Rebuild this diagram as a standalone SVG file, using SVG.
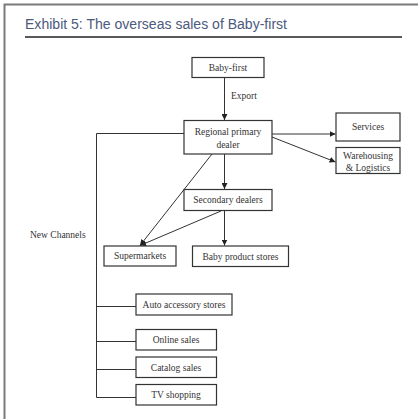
<svg xmlns="http://www.w3.org/2000/svg" width="418" height="419" viewBox="0 0 418 419">
<style>
.box{fill:#fff;stroke:#333;stroke-width:1.2}
.t{font-family:"Liberation Serif","Times New Roman",serif;font-size:9.5px;fill:#333;text-anchor:middle}
.ln{fill:none;stroke:#333;stroke-width:1}
.title{font-family:"Liberation Sans",Arial,sans-serif;font-size:14px;fill:#4b5a7d}
</style>
<defs>
<marker id="ah" viewBox="0 0 10 10" refX="10" refY="5" markerWidth="6" markerHeight="6" markerUnits="userSpaceOnUse" orient="auto">
<path d="M0,0 L10,5 L0,10 Z" fill="#222"/>
</marker>
</defs>
<rect width="418" height="419" fill="#fff"/>
<g id="frame">
<path d="M4.5,419 V4.5 H418" fill="none" stroke="#7a7a7a" stroke-width="2"/>
<text class="title" x="25" y="28.5" textLength="262" lengthAdjust="spacingAndGlyphs">Exhibit 5: The overseas sales of Baby-first</text>
<line x1="25" y1="37" x2="402" y2="37" stroke="#222" stroke-width="1.5"/>
</g>
<g id="connectors">
<line class="ln" x1="224.5" y1="78" x2="224.5" y2="120" marker-end="url(#ah)"/>
<line class="ln" x1="272" y1="134" x2="335.5" y2="134" marker-end="url(#ah)"/>
<line class="ln" x1="272" y1="137" x2="335.5" y2="162" marker-end="url(#ah)"/>
<line class="ln" x1="224.5" y1="154" x2="224.5" y2="189" marker-end="url(#ah)"/>
<line class="ln" x1="212" y1="154" x2="140" y2="245.5" marker-end="url(#ah)"/>
<line class="ln" x1="221" y1="211" x2="140" y2="245.5" marker-end="url(#ah)"/>
<line class="ln" x1="224.5" y1="211" x2="224.5" y2="245.5" marker-end="url(#ah)"/>
<path class="ln" d="M184,133.5 H96.5 V397.5 H136 M96.5,306.5 H136 M96.5,341.5 H136 M96.5,369.5 H136"/>
<text class="t" x="231" y="99" style="text-anchor:start">Export</text>
<text class="t" x="30" y="238" style="text-anchor:start">New Channels</text>
</g>
<g id="baby-first"><rect class="box" x="192" y="57.5" width="72" height="20"/><text class="t" x="228" y="70.5">Baby-first</text></g>
<g id="regional"><rect class="box" x="184" y="120.5" width="88" height="33.5"/><text class="t" x="228" y="135">Regional primary</text><text class="t" x="228" y="148">dealer</text></g>
<g id="services"><rect class="box" x="336" y="113" width="64" height="28"/><text class="t" x="368" y="130">Services</text></g>
<g id="warehousing"><rect class="box" x="336" y="147.5" width="64" height="26"/><text class="t" x="368" y="158.5">Warehousing</text><text class="t" x="368" y="171">&amp; Logistics</text></g>
<g id="secondary"><rect class="box" x="184" y="189.5" width="88" height="21"/><text class="t" x="228" y="203">Secondary dealers</text></g>
<g id="supermarkets"><rect class="box" x="104" y="246" width="72" height="20"/><text class="t" x="140" y="259">Supermarkets</text></g>
<g id="baby-product"><rect class="box" x="192.5" y="246" width="96" height="20.5"/><text class="t" x="240.5" y="259.5">Baby product stores</text></g>
<g id="auto"><rect class="box" x="136" y="294" width="96" height="21"/><text class="t" x="184" y="308">Auto accessory stores</text></g>
<g id="online"><rect class="box" x="136" y="329.5" width="80.5" height="20.5"/><text class="t" x="176" y="343">Online sales</text></g>
<g id="catalog"><rect class="box" x="136" y="357" width="80.5" height="20.5"/><text class="t" x="176" y="370.5">Catalog sales</text></g>
<g id="tv"><rect class="box" x="136" y="384.5" width="80.5" height="20.5"/><text class="t" x="176" y="398">TV shopping</text></g>
</svg>
